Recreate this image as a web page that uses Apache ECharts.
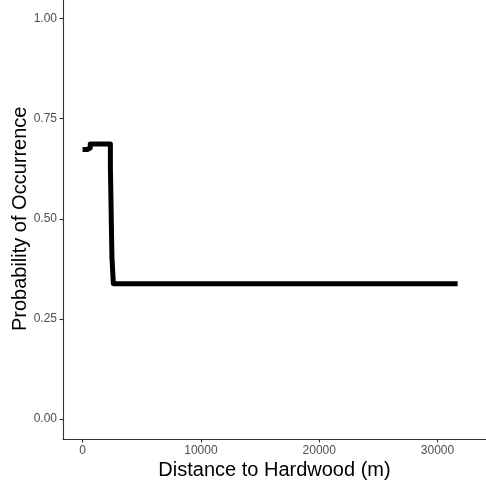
<!DOCTYPE html>
<html>
<head>
<meta charset="utf-8">
<script src="https://cdn.jsdelivr.net/npm/echarts@6/dist/echarts.min.js"></script>
<style>
  html, body { margin: 0; padding: 0; background: #ffffff; }
  #chart { width: 486px; height: 493px; }
</style>
</head>
<body>
<div id="chart"></div>
<script>
// Partial dependence of occurrence probability on distance to hardwood
const distance = [0, 400, 400, 650, 650, 2350, 2350, 2480, 2480, 2600, 2600, 31700];
const probability = [0.673, 0.673, 0.677, 0.677, 0.687, 0.687, 0.630, 0.630, 0.405, 0.405, 0.338, 0.338];
const xTicks = [0, 10000, 20000, 30000];
const yTicks = [0, 0.25, 0.5, 0.75, 1];

const points = distance.map((d, i) => [d, probability[i]]);

const FONT = '"Liberation Sans", Arial, sans-serif';
const chart = echarts.init(document.getElementById('chart'), null, { renderer: 'canvas' });

chart.setOption({
  backgroundColor: '#ffffff',
  animation: false,
  grid: { left: 63, right: 0, top: -1.4, bottom: 54, containLabel: false, outerBoundsMode: 'none' },
  xAxis: {
    type: 'value',
    min: -1655,
    max: 34096,
    name: 'Distance to Hardwood (m)',
    nameLocation: 'middle',
    nameGap: 21,
    nameMoveOverlap: false,
    nameTextStyle: { fontFamily: FONT, fontSize: 20, color: '#000000', verticalAlign: 'top' },
    axisLine: { show: true, onZero: false, lineStyle: { color: '#333333', width: 1.1 } },
    axisTick: { show: true, length: 3.5, customValues: xTicks, lineStyle: { color: '#333333', width: 1.1 } },
    axisLabel: {
      customValues: xTicks, margin: 6,
      fontFamily: FONT, fontSize: 12, color: '#4D4D4D',
      formatter: v => String(v)
    },
    splitLine: { show: false }
  },
  yAxis: {
    type: 'value',
    min: -0.05,
    max: 1.05,
    name: 'Probability of Occurrence',
    nameLocation: 'middle',
    nameGap: 33,
    nameRotate: 90,
    nameMoveOverlap: false,
    nameTextStyle: { fontFamily: FONT, fontSize: 20, color: '#000000', verticalAlign: 'bottom' },
    axisLine: { show: true, onZero: false, lineStyle: { color: '#333333', width: 1.1 } },
    axisTick: { show: true, length: 3.5, customValues: yTicks, lineStyle: { color: '#333333', width: 1.1 } },
    axisLabel: {
      customValues: yTicks, margin: 6,
      fontFamily: FONT, fontSize: 12, color: '#4D4D4D',
      formatter: v => v.toFixed(2)
    },
    splitLine: { show: false }
  },
  series: [{
    type: 'line',
    data: points,
    showSymbol: false,
    symbol: 'none',
    lineStyle: { color: '#000000', width: 5, cap: 'butt', join: 'round' },
    silent: true
  }]
});
</script>
</body>
</html>
